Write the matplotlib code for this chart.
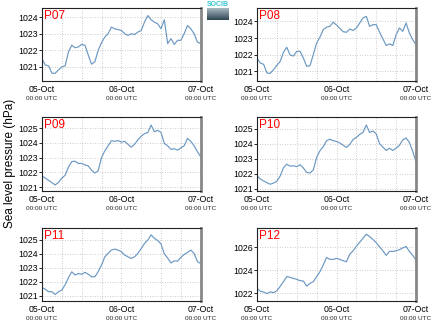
import numpy as np
import matplotlib
matplotlib.use("Agg")
import matplotlib.pyplot as plt

plt.rcParams['font.family'] = ['Liberation Sans', 'DejaVu Sans']

hours = list(range(49))
stations = ["P07", "P08", "P09", "P10", "P11", "P12"]

p07 = [1021.47, 1021.1, 1021.05, 1020.6, 1020.6, 1020.8, 1020.99, 1021.05, 1021.9, 1022.3,
       1022.15, 1022.2, 1022.35, 1022.3, 1021.7, 1021.15, 1021.3, 1022.0, 1022.45, 1022.8,
       1023.0, 1023.4, 1023.3, 1023.25, 1023.2, 1023.0, 1022.9, 1023.0, 1022.95, 1023.1,
       1023.2, 1023.7, 1024.1, 1023.85, 1023.7, 1023.6, 1023.3, 1023.85, 1022.4, 1022.7,
       1022.35, 1022.6, 1022.6, 1023.0, 1023.5, 1023.3, 1023.0, 1022.5, 1022.4]
p08 = [1021.78, 1021.5, 1021.42, 1020.9, 1020.88, 1021.1, 1021.36, 1021.6, 1022.15, 1022.44,
       1021.98, 1021.92, 1022.2, 1022.2, 1021.8, 1021.3, 1021.34, 1022.0, 1022.7, 1023.05,
       1023.5, 1023.65, 1023.7, 1023.95, 1023.78, 1023.58, 1023.38, 1023.34, 1023.54, 1023.45,
       1023.6, 1023.9, 1024.2, 1024.3, 1023.7, 1023.8, 1023.8, 1023.35, 1022.95, 1022.55,
       1022.65, 1022.55, 1023.2, 1023.6, 1023.4, 1023.9, 1023.3, 1022.9, 1022.6]
p09 = [1021.75, 1021.6, 1021.45, 1021.3, 1021.14, 1021.32, 1021.6, 1021.8, 1022.35, 1022.73,
       1022.75, 1022.6, 1022.6, 1022.5, 1022.43, 1022.14, 1021.95, 1022.1, 1023.0, 1023.45,
       1023.8, 1024.14, 1024.1, 1024.15, 1024.05, 1024.1, 1023.9, 1023.7, 1023.9, 1024.2,
       1024.45, 1024.62, 1024.7, 1025.2, 1024.75, 1024.85, 1024.7, 1023.95, 1023.8, 1023.55,
       1023.6, 1023.5, 1023.65, 1023.8, 1024.3, 1024.1, 1023.8, 1023.4, 1023.05]
p10 = [1021.87, 1021.65, 1021.52, 1021.4, 1021.3, 1021.38, 1021.5, 1021.85, 1022.4, 1022.64,
       1022.5, 1022.53, 1022.47, 1022.6, 1022.38, 1022.09, 1022.05, 1022.25, 1023.09, 1023.53,
       1023.8, 1024.2, 1024.3, 1024.2, 1024.15, 1024.05, 1023.9, 1023.75, 1023.95, 1024.28,
       1024.42, 1024.62, 1024.75, 1025.25, 1024.75, 1024.85, 1024.65, 1024.0, 1023.78, 1023.55,
       1023.7, 1023.55, 1023.7, 1023.9, 1024.25, 1024.38, 1024.09, 1023.5, 1022.8]
p11 = [1021.59, 1021.48, 1021.3, 1021.3, 1021.1, 1021.3, 1021.42, 1021.8, 1022.3, 1022.72,
       1022.49, 1022.6, 1022.54, 1022.68, 1022.54, 1022.37, 1022.37, 1022.73, 1023.2, 1023.79,
       1024.03, 1024.27, 1024.34, 1024.27, 1024.15, 1023.91, 1023.79, 1023.67, 1023.79, 1024.03,
       1024.38, 1024.74, 1024.98, 1025.35, 1025.1, 1024.95, 1024.7, 1024.0, 1023.7, 1023.35,
       1023.5, 1023.48, 1023.75, 1023.95, 1024.1, 1024.27, 1024.03, 1023.45, 1023.3]
p12 = [1022.41, 1022.15, 1022.08, 1021.95, 1022.1, 1022.03, 1022.2, 1022.58, 1023.0, 1023.45,
       1023.37, 1023.28, 1023.2, 1023.08, 1023.05, 1022.6, 1022.85, 1022.99, 1023.43, 1023.87,
       1024.45, 1025.12, 1024.95, 1024.95, 1025.04, 1024.95, 1024.83, 1024.74, 1025.4, 1025.7,
       1026.1, 1026.45, 1026.8, 1027.15, 1026.95, 1026.7, 1026.4, 1026.05, 1025.7, 1025.3,
       1025.65, 1025.65, 1025.7, 1025.8, 1025.95, 1026.08, 1025.65, 1025.3, 1024.9]
series = [p07, p08, p09, p10, p11, p12]

ylims = [(1020.13, 1024.56), (1020.42, 1024.8), (1020.73, 1025.75),
         (1020.85, 1025.78), (1020.64, 1025.84), (1021.3, 1027.7)]
yticks = [[1021, 1022, 1023, 1024], [1021, 1022, 1023, 1024],
          [1021, 1022, 1023, 1024, 1025], [1021, 1022, 1023, 1024, 1025],
          [1021, 1022, 1023, 1024, 1025], [1022, 1024, 1026]]
xtick_hours = [0, 24, 48]
xtick_labels = ["05-Oct", "06-Oct", "07-Oct"]
xtick_sub = "00:00 UTC"

W, H = 435, 327
fig = plt.figure(figsize=(W / 100, H / 100), dpi=100)

cols = [(42, 200.7), (257, 416)]
rows = [(8, 81), (117, 191), (228, 301)]

for i, (name, vals) in enumerate(zip(stations, series)):
    r, c = divmod(i, 2)
    x0, x1 = cols[c]
    y0, y1 = rows[r]
    ax = fig.add_axes([x0 / W, (H - y1) / H, (x1 - x0) / W, (y1 - y0) / H])
    ax.plot(hours, vals, color="#6b98c2", lw=0.85)
    ax.set_xlim(0, 48)
    ax.set_ylim(*ylims[i])
    ax.set_yticks(yticks[i])
    ax.set_yticklabels([str(v) for v in yticks[i]], fontsize=6.3)
    ax.set_xticks(np.arange(0, 49, 6), minor=True)
    ax.set_xticks(xtick_hours)
    ax.set_xticklabels(xtick_labels, fontsize=6.3)
    ax.tick_params(axis='y', length=2, width=0.6, pad=1)
    ax.tick_params(axis='x', which='both', length=0, pad=3)
    ax.grid(True, which='both', axis='x', color='#bbbbbb', lw=0.6, ls=(0, (1, 2)))
    ax.grid(True, which='major', axis='y', color='#bbbbbb', lw=0.6, ls=(0, (1, 2)))
    for s in ['left', 'bottom', 'top']:
        ax.spines[s].set_color('#222222')
        ax.spines[s].set_linewidth(0.8)
    ax.spines['right'].set_color('#888888')
    ax.spines['right'].set_linewidth(2.0)
    ax.text(0.015, 0.97, name, transform=ax.transAxes, ha='left', va='top',
            color='red', fontsize=8.5)
    for h in xtick_hours:
        ax.annotate(xtick_sub, xy=(h, 0), xycoords=('data', 'axes fraction'),
                    xytext=(0, -10.5), textcoords='offset points', ha='center',
                    va='top', fontsize=4.6, color='#222222')

fig.text(10 / W, 0.5, "Sea level pressure (hPa)", rotation=90, ha='center',
         va='center', fontsize=8.5)

# logo
lax = fig.add_axes([207 / W, (H - 20) / H, 21 / W, 12 / H])
grad = np.linspace(0, 1, 50).reshape(-1, 1)
lax.imshow(grad, aspect='auto', cmap=matplotlib.colors.LinearSegmentedColormap.from_list(
    'g', ['#a9b9c2', '#2f4552']), extent=(0, 1, 0, 1))
lax.axis('off')
fig.text(217.5 / W, (H - 5) / H, "SOCIB", ha='center', va='center', fontsize=5,
         color='#33c4d6', fontweight='bold')

fig.savefig("out.png", dpi=100)
